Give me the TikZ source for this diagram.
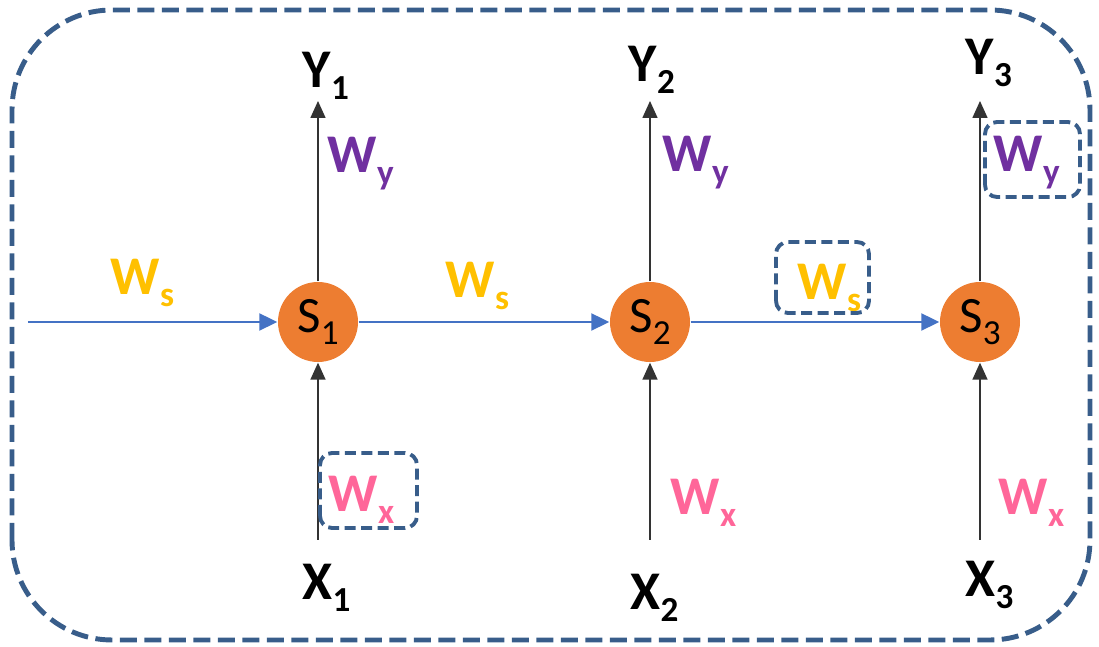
\documentclass[tikz,border=0pt]{standalone}
\usepackage{fontspec}
\setmainfont{Carlito}
\usetikzlibrary{arrows.meta}

\definecolor{sorange}{HTML}{ED7D31}
\definecolor{sblue}{HTML}{4472C4}
\definecolor{wpurple}{HTML}{7030A0}
\definecolor{wgold}{HTML}{FFC000}
\definecolor{wpink}{HTML}{FF6699}
\definecolor{frame}{HTML}{385D8A}

% lowered index
\newcommand{\low}[1]{\raisebox{-3.2pt}{\fontsize{10}{11}\selectfont #1}}

\begin{document}
\begin{tikzpicture}[
  state/.style={circle, fill=sorange, minimum size=0.8cm, inner sep=0pt, font=\fontsize{14.5}{16}\selectfont},
  lbl/.style={anchor=base west, inner sep=0pt, font=\fontsize{15.5}{17}\selectfont\bfseries},
  arr/.style={-{Triangle[length=0.17cm,width=0.15cm]}, line width=0.45pt, black!80},
  harr/.style={-{Triangle[length=0.18cm,width=0.17cm]}, line width=0.6pt, sblue},
  wbox/.style={draw=frame, line width=1.1pt, dash pattern=on 0.11cm off 0.055cm, rounded corners=0.12cm}
]
\useasboundingbox (0,0) rectangle (10.99,6.47);
\draw[frame, line width=1.4pt, dash pattern=on 0.17cm off 0.075cm, rounded corners=1cm] (0.12,0.07) rectangle (10.90,6.37);

% states
\node[state] (S1) at (3.18,3.25) {S\low{1}};
\node[state] (S2) at (6.50,3.25) {S\low{2}};
\node[state] (S3) at (9.80,3.25) {S\low{3}};

% inputs and outputs
\node[lbl] (X1) at (3.02,0.47) {X\low{1}};
\node[lbl] (X2) at (6.30,0.37) {X\low{2}};
\node[lbl] (X3) at (9.65,0.50) {X\low{3}};
\node[lbl] (Y1) at (3.02,5.59) {Y\low{1}};
\node[lbl] (Y2) at (6.28,5.65) {Y\low{2}};
\node[lbl] (Y3) at (9.65,5.72) {Y\low{3}};

\coordinate (in) at (0.28,3.25);
\coordinate (top) at (0,5.46);
\coordinate (bot) at (0,1.07);

\draw[harr] (in) -- (S1);
\draw[harr] (S1) -- (S2);
\draw[harr] (S2) -- (S3);
\draw[arr] (S1) -- (S1 |- top);
\draw[arr] (S2) -- (S2 |- top);
\draw[arr] (S3) -- (S3 |- top);
\draw[arr] (S1 |- bot) -- (S1);
\draw[arr] (S2 |- bot) -- (S2);
\draw[arr] (S3 |- bot) -- (S3);

% weights
\node[lbl, wgold] (Ws1) at (1.10,3.52) {W\low{s}};
\node[lbl, wgold] (Ws2) at (4.45,3.49) {W\low{s}};
\node[lbl, wgold] (Ws3) at (7.97,3.47) {W\low{s}};
\node[lbl, wpurple] (Wy1) at (3.27,4.74) {W\low{y}};
\node[lbl, wpurple] (Wy2) at (6.62,4.75) {W\low{y}};
\node[lbl, wpurple] (Wy3) at (9.93,4.75) {W\low{y}};
\node[lbl, wpink] (Wx1) at (3.28,1.35) {W\low{x}};
\node[lbl, wpink] (Wx2) at (6.70,1.32) {W\low{x}};
\node[lbl, wpink] (Wx3) at (9.98,1.32) {W\low{x}};

% shared weights
\draw[wbox] (3.20,1.19) rectangle (4.17,1.94);
\draw[wbox] (7.76,3.34) rectangle (8.69,4.05);
\draw[wbox] (9.85,4.50) rectangle (10.80,5.25);
\end{tikzpicture}
\end{document}
